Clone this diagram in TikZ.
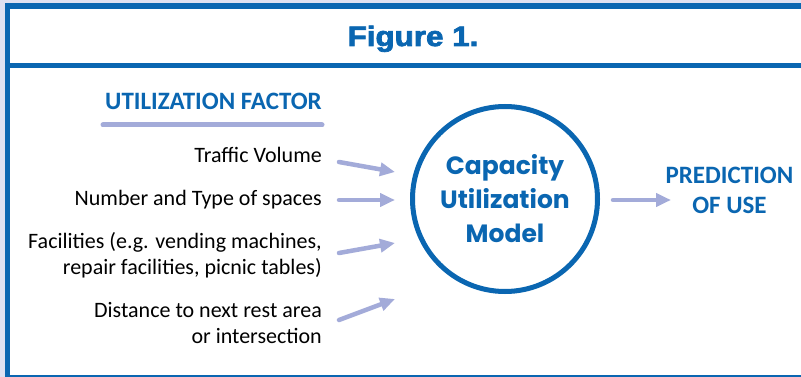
\documentclass[tikz,border=0pt]{standalone}
\usepackage{fontspec}
\setmainfont{Carlito}
\newfontfamily\roundfont{Poppins}
\newfontfamily\heavyfont{Liberation Sans}[BoldFeatures={FakeBold=2.5}]
\usetikzlibrary{arrows.meta}
\definecolor{frameblue}{HTML}{0A66B1}
\definecolor{feedlav}{HTML}{A3ABD9}
\definecolor{backlav}{HTML}{DEE1F1}

\begin{document}
\begin{tikzpicture}[x=1pt, y=-1pt,
    factorlabel/.style={anchor=base east, inner sep=0pt, align=right,
      font=\fontsize{22}{26}\selectfont},
    bluehead/.style={text=frameblue, inner sep=0pt, align=center,
      font=\bfseries\fontsize{25}{29}\selectfont},
    feed/.style={draw=feedlav, line width=4.5pt, line cap=round,
      -{Triangle[length=15pt,width=13pt]}},
    hub/.style={circle, draw=frameblue, line width=5pt, minimum size=185pt,
      text=frameblue, align=center, inner sep=0pt,
      font=\roundfont\bfseries\fontsize{25}{34}\selectfont}]
  \useasboundingbox (0,0) rectangle (801,377);

  % frame
  \fill[backlav] (0,0) rectangle (801,377);
  \fill[white] (7.5,6) rectangle (806,380);
  \draw[frameblue, line width=5.5pt] (806,6) -- (7.5,6) -- (7.5,381);
  \draw[frameblue, line width=5.5pt] (7.5,65.5) -- (806,65.5);
  \draw[frameblue, line width=5.5pt] (7.5,377.5) -- (806,377.5);
  \node[anchor=base, inner sep=0pt, text=frameblue] (title) at (413,46)
    {\heavyfont\bfseries\fontsize{28}{28}\selectfont\scalebox{1.12}[1]{Figure 1.}};

  % left side
  \node[bluehead, anchor=base east] (factor) at (322,110) {UTILIZATION FACTOR};
  \draw[feedlav, line width=5pt, line cap=round] (103,125) -- (322,125);

  \node[factorlabel] (traffic) at (322,163) {Traffic Volume};
  \node[factorlabel] (spaces) at (322,206) {Number and Type of spaces};
  \node[factorlabel] (facil) at (322,274)
    {Facilities (e.g. vending machines,\\repair facilities, picnic tables)};
  \node[factorlabel] (dist) at (322,343) {Distance to next rest area\\or intersection};

  % model and result
  \node[hub] (model) at (505,199) {Capacity\\Utilization\\Model};
  \node[bluehead, anchor=base] (predict) at (729.5,213) {PREDICTION\\OF USE};

  % arrows
  \foreach \ya/\yb [count=\k] in {162/172, 200/200, 253/243, 320/299} {
    \coordinate (in\k) at (339,\ya);
    \coordinate (tip\k) at (395,\yb);
    \draw[feed] (in\k) -- (tip\k);
  }
  \coordinate (outtip) at (671,200);
  \draw[feed, shorten <=13pt] (model.east |- outtip) -- (outtip);
\end{tikzpicture}
\end{document}
